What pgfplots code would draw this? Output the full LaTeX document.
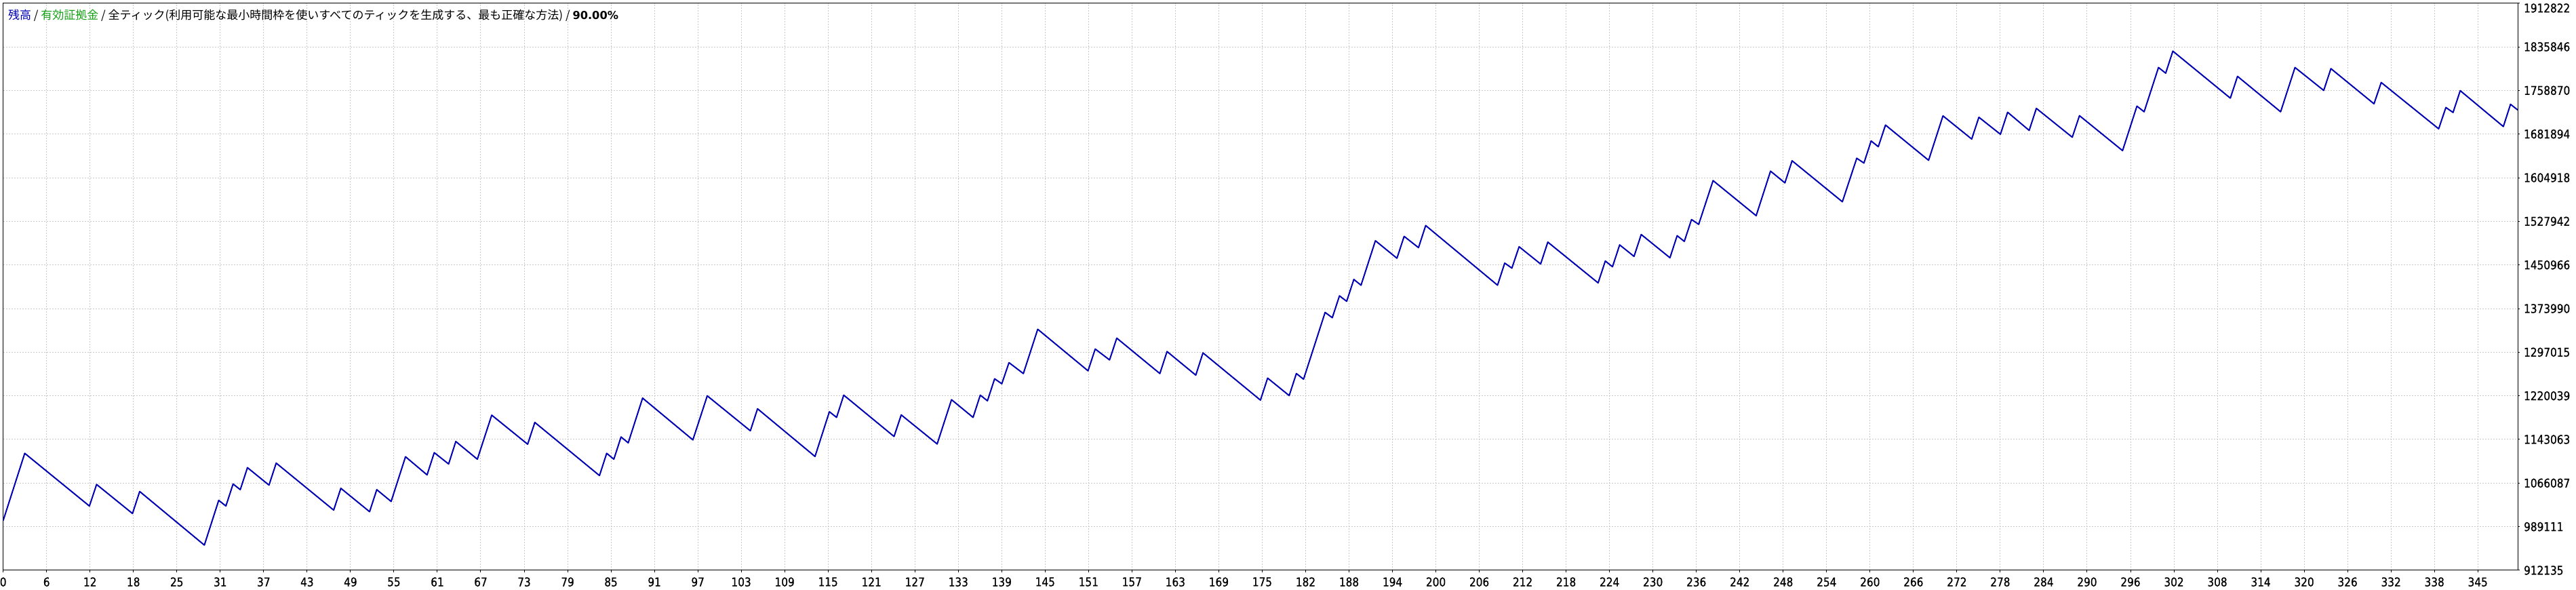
\documentclass[border=0pt]{standalone}
\usepackage{fontspec}
\setmainfont{DejaVu Sans}
\newfontfamily\jp{Noto Sans CJK JP}
\newfontfamily\tickfont[FakeStretch=0.86,FakeBold=0.8]{DejaVu Sans}
\usepackage{pgfplots}
\pgfplotsset{compat=1.18}
\definecolor{bal}{RGB}{0,0,180}
\definecolor{eqg}{RGB}{20,160,20}
\definecolor{gridc}{RGB}{200,200,200}
\begin{document}
\begin{tikzpicture}
\begin{axis}[
  name=main,
  at={(2.35pt,14.5pt)}, anchor=south west,
  scale only axis, width=1854.15pt, height=418.15pt,
  xmin=0, xmax=350, ymin=912135, ymax=1912822,
  axis line style={black, line width=0.5pt},
  tick align=outside, major tick length=1.5pt,
  tick style={black, line width=0.5pt},
  xtick pos=bottom, ytick pos=right, yticklabel pos=right,
  xtick={0,6.043,...,345},
  xticklabels={0,6,12,18,25,31,37,43,49,55,61,67,73,79,85,91,97,103,109,115,121,127,133,139,145,151,157,163,169,175,182,188,194,200,206,212,218,224,230,236,242,248,254,260,266,272,278,284,290,296,302,308,314,320,326,332,338,345},
  ytick={912135,989111,1066087,1143063,1220039,1297015,1373990,1450966,1527942,1604918,1681894,1758870,1835846,1912822},
  yticklabels={912135,989111,1066087,1143063,1220039,1297015,1373990,1450966,1527942,1604918,1681894,1758870,1835846,{\raisebox{0pt}[0pt][0pt]{\raisebox{-6.85pt}{1912822}}}},
  ticklabel style={font=\tickfont\fontsize{8.9}{10}\selectfont, inner sep=0pt},
  xticklabel style={yshift=-3.5pt},
  yticklabel style={xshift=2.85pt},
  grid=major,
  major grid style={gridc, dash pattern=on 1pt off 1pt, line width=0.5pt},
]
\addplot[bal, line width=1pt, line join=round] coordinates {
(0,1000000) (3,1118599) (12,1025590) (13,1063675) (18,1012360) (19,1051247)
(28,956635) (30,1035612) (31,1025590) (32,1064477) (33,1054455) (34,1093342)
(37,1062473) (38,1101360) (46,1018374) (47,1056860) (51,1015567) (52,1054455)
(54,1033608) (56,1112585) (59,1080513) (60,1119801) (62,1099756) (63,1139445)
(66,1108175) (68,1185950) (73,1134635) (74,1173121) (83,1079310) (84,1118599)
(85,1108175) (86,1147463) (87,1137040) (89,1216017) (96,1142264) (98,1220039)
(104,1158300) (105,1197188) (113,1112999) (115,1191976) (116,1181954) (117,1221242)
(124,1148278) (125,1186363) (130,1135048) (132,1213224) (135,1181954) (136,1221242)
(137,1211219) (138,1250107) (139,1241287) (140,1278570) (142,1259327) (144,1337503)
(151,1264138) (152,1302624) (154,1283381) (155,1321868) (161,1259327) (162,1298215)
(166,1256521) (167,1295809) (175,1212422) (176,1251309) (179,1220440) (180,1259400)
(181,1249310) (184,1367228) (185,1357876) (186,1396503) (187,1386745) (188,1425372)
(189,1415207) (191,1493681) (194,1462779) (195,1501406) (197,1481483) (198,1520516)
(208,1415207) (209,1454241) (210,1445296) (211,1483109) (214,1452614) (215,1491241)
(222,1419273) (223,1457900) (224,1447735) (225,1486362) (227,1466032) (228,1504659)
(232,1463592) (233,1502626) (234,1492461) (235,1531088) (236,1522549) (238,1599803)
(244,1537840) (246,1616474) (248,1595737) (249,1634771) (256,1562396) (258,1639244)
(259,1630705) (260,1669739) (261,1659574) (262,1697794) (268,1635584) (270,1714000)
(274,1673074) (275,1711561) (278,1681493) (279,1720380) (282,1688308) (283,1727196)
(288,1676281) (289,1714367) (295,1652628) (297,1731205) (298,1721182) (300,1799358)
(301,1789335) (302,1828223) (310,1745236) (311,1783723) (317,1721182) (319,1799358)
(323,1758867) (324,1797353) (330,1735214) (331,1772898) (339,1691115) (340,1728799)
(341,1719980) (342,1758466) (348,1695124) (349,1734412) (350,1724389)
};
\end{axis}
\node[anchor=base west, inner sep=0pt, font=\jp\fontsize{8.5}{10}\selectfont]
  at ([xshift=3.5pt, yshift=-12pt]main.north west)
  {\textcolor{bal}{残高} / \textcolor{eqg}{有効証拠金} / 全ティック(利用可能な最小時間枠を使いすべてのティックを生成する、最も正確な方法) / {\fontspec{DejaVu Sans}\bfseries\fontsize{8.1}{10}\selectfont 90.00\%}};
\pgfresetboundingbox
\path (0,0) rectangle (1899.5pt,435pt);
\end{tikzpicture}
\end{document}
